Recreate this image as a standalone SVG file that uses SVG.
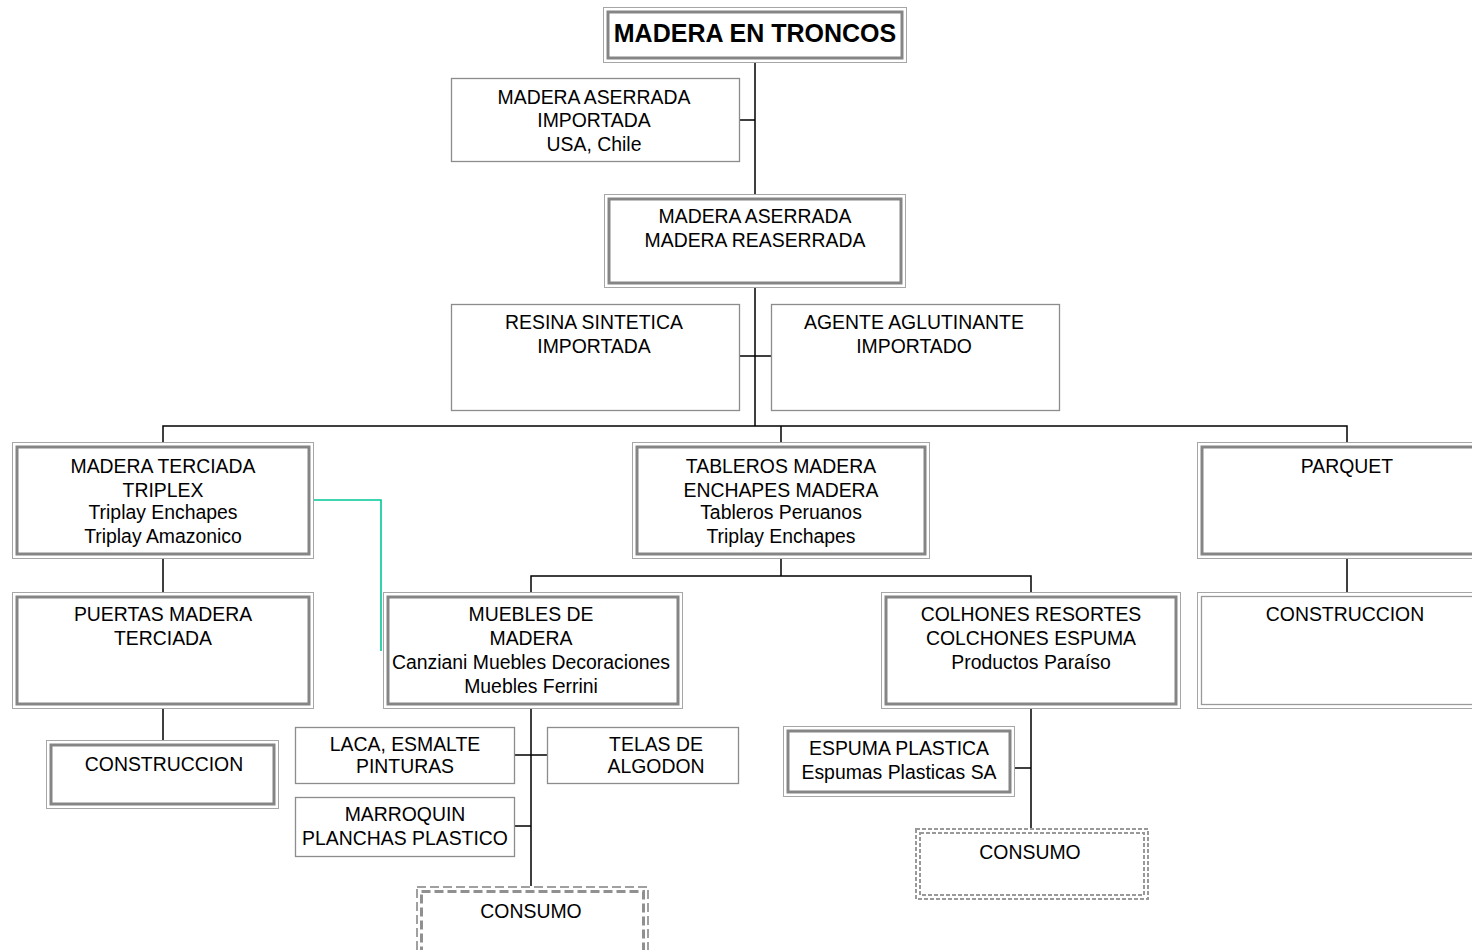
<svg xmlns="http://www.w3.org/2000/svg" width="1472" height="950" viewBox="0 0 1472 950">
<style>
text{font-family:"Liberation Sans",Arial,sans-serif;font-size:19.4px;fill:#000;text-anchor:middle}
.b{font-weight:bold;font-size:25px}
.o{fill:#fff;stroke:#a6a6a6;stroke-width:1}
.i{fill:none;stroke:#858585;stroke-width:3}
.s{fill:#fff;stroke:#8c8c8c;stroke-width:1.3}
.ln{stroke:#000;stroke-width:1.5;fill:none}
.g{stroke:#00c896;stroke-width:1.6;fill:none}
.do{fill:#fff;stroke:#a0a0a0;stroke-width:2;stroke-dasharray:9 4}
.di{fill:none;stroke:#909090;stroke-width:3;stroke-dasharray:9 4}
.po{fill:#fff;stroke:#999;stroke-width:2;stroke-dasharray:4 2}
.pi{fill:none;stroke:#999;stroke-width:2;stroke-dasharray:4 2}
</style>
<rect width="1472" height="950" fill="#fff"/>
<g id="connectors">
<path class="ln" d="M755 63V426M740 120H755M740 356H771M163 443V426H1347V443M781 426V443"/>
<path class="ln" d="M163 559V593M163 709V741M781 559V576M531 593V576H1031V593M1347 559V593"/>
<path class="ln" d="M531 709V886M515 755H547M515 826H531M1031 709V828M1013 768H1031"/>
<path class="g" d="M313 500H381V651"/>
</g>
<g id="n1"><rect class="o" x="603.5" y="7.5" width="303" height="55"/><rect class="i" x="608" y="12" width="294" height="46"/><text class="b" x="755" y="42">MADERA EN TRONCOS</text></g>
<g id="n2"><rect class="s" x="451.5" y="78.5" width="288" height="83"/><text x="594" y="104">MADERA ASERRADA</text><text x="594" y="127">IMPORTADA</text><text x="594" y="151">USA, Chile</text></g>
<g id="n3"><rect class="o" x="604.5" y="194.5" width="301" height="93"/><rect class="i" x="609" y="199" width="292" height="84"/><text x="755" y="223">MADERA ASERRADA</text><text x="755" y="247">MADERA REASERRADA</text></g>
<g id="n4"><rect class="s" x="451.5" y="304.5" width="288" height="106"/><text x="594" y="329">RESINA SINTETICA</text><text x="594" y="353">IMPORTADA</text></g>
<g id="n5"><rect class="s" x="771.5" y="304.5" width="288" height="106"/><text x="914" y="329">AGENTE AGLUTINANTE</text><text x="914" y="353">IMPORTADO</text></g>
<g id="n6"><rect class="o" x="12.5" y="442.5" width="301" height="116"/><rect class="i" x="17" y="447" width="292" height="107"/><text x="163" y="473">MADERA TERCIADA</text><text x="163" y="497">TRIPLEX</text><text x="163" y="519">Triplay Enchapes</text><text x="163" y="543">Triplay Amazonico</text></g>
<g id="n7"><rect class="o" x="632.5" y="442.5" width="297" height="116"/><rect class="i" x="637" y="447" width="288" height="107"/><text x="781" y="473">TABLEROS MADERA</text><text x="781" y="497">ENCHAPES MADERA</text><text x="781" y="519">Tableros Peruanos</text><text x="781" y="543">Triplay Enchapes</text></g>
<g id="n8"><rect class="o" x="1197.5" y="442.5" width="290" height="116"/><rect class="i" x="1202" y="447" width="290" height="107"/><text x="1347" y="473">PARQUET</text></g>
<g id="n9"><rect class="o" x="12.5" y="592.5" width="301" height="116"/><rect class="i" x="17" y="597" width="292" height="107"/><text x="163" y="621">PUERTAS MADERA</text><text x="163" y="645">TERCIADA</text></g>
<g id="n10"><rect class="o" x="383.5" y="592.5" width="299" height="116"/><rect class="i" x="388" y="597" width="290" height="107"/><text x="531" y="621">MUEBLES DE</text><text x="531" y="645">MADERA</text><text x="531" y="669">Canziani Muebles Decoraciones</text><text x="531" y="693">Muebles Ferrini</text></g>
<g id="n11"><rect class="o" x="881.5" y="592.5" width="299" height="116"/><rect class="i" x="886" y="597" width="290" height="107"/><text x="1031" y="621">COLHONES RESORTES</text><text x="1031" y="645">COLCHONES ESPUMA</text><text x="1031" y="669">Productos Paraíso</text></g>
<g id="n12"><rect class="o" x="1197.5" y="592.5" width="290" height="116"/><rect fill="none" stroke="#999" stroke-width="1.3" x="1201.5" y="596.5" width="290" height="108"/><text x="1345" y="621">CONSTRUCCION</text></g>
<g id="n13"><rect class="o" x="46.5" y="740.5" width="232" height="68"/><rect class="i" x="51" y="745" width="223" height="59"/><text x="164" y="771">CONSTRUCCION</text></g>
<g id="n14"><rect class="s" x="295.5" y="727.5" width="219" height="56"/><text x="405" y="751">LACA, ESMALTE</text><text x="405" y="773">PINTURAS</text></g>
<g id="n15"><rect class="s" x="547.5" y="727.5" width="191" height="56"/><text x="656" y="751">TELAS DE</text><text x="656" y="773">ALGODON</text></g>
<g id="n16"><rect class="s" x="295.5" y="797.5" width="219" height="59"/><text x="405" y="821">MARROQUIN</text><text x="405" y="845">PLANCHAS PLASTICO</text></g>
<g id="n17"><rect class="o" x="783.5" y="726.5" width="231" height="70"/><rect class="i" x="788" y="731" width="222" height="61"/><text x="899" y="755">ESPUMA PLASTICA</text><text x="899" y="779">Espumas Plasticas SA</text></g>
<g id="n18"><rect class="do" x="417" y="887" width="231" height="80"/><rect class="di" x="421.5" y="891.5" width="222" height="70"/><text x="531" y="918">CONSUMO</text></g>
<g id="n19"><rect class="po" x="916" y="829" width="232" height="70"/><rect class="pi" x="920" y="833" width="224" height="62"/><text x="1030" y="859">CONSUMO</text></g>
</svg>
